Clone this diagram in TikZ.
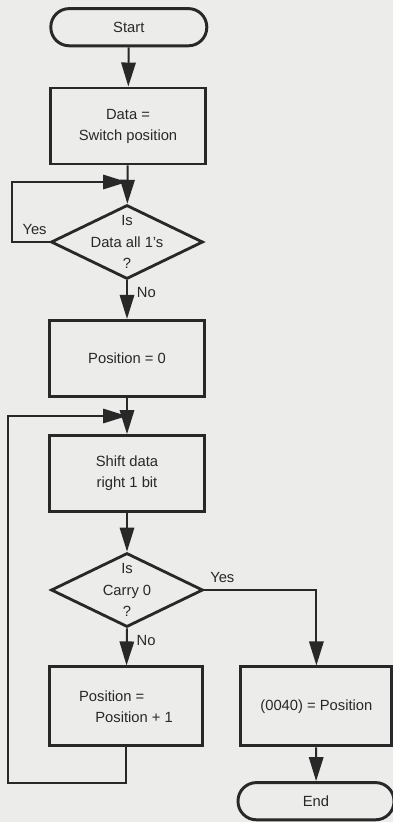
\documentclass[tikz,border=0pt]{standalone}
\usepackage{fontspec}
\setmainfont{Liberation Sans}
\usetikzlibrary{arrows.meta, shapes.geometric}
\definecolor{paper}{RGB}{236,236,234}
\definecolor{ink}{RGB}{40,40,40}
\begin{document}
\begin{tikzpicture}[>={Triangle[length=0.6cm,width=0.36cm]},
  every node/.style={text=ink, font=\fontsize{10.5}{15}\selectfont},
  flow/.style={draw=ink, line width=1.4pt},
  procbox/.style={draw=ink, line width=2.1pt, rectangle, align=center,
                  minimum width=3.875cm, minimum height=1.9cm},
  decision/.style={draw=ink, line width=2pt, diamond, align=center,
                   inner xsep=-0.3cm, inner ysep=-0.4cm,
                   minimum width=3.8cm, minimum height=1.85cm},
  terminal/.style={draw=ink, line width=2.1pt, rectangle, rounded corners=0.46cm,
                   minimum width=3.9cm, minimum height=0.93cm}]
  % page
  \fill[paper] (0,0) rectangle (9.825,-20.55);
  \useasboundingbox (0,0) rectangle (9.825,-20.55);
  % main column
  \node[terminal] (start) at (3.22,-0.68) {Start};
  \node[procbox] (data) at (3.2,-3.15) {Data =\\Switch position};
  \node[decision] (isones) at (3.175,-6.05) {Is\\Data all 1's\\?};
  \node[procbox] (posnull) at (3.175,-8.96) {Position = 0};
  \node[procbox] (shift) at (3.175,-11.84) {Shift data\\right 1 bit};
  \node[decision] (iscarry) at (3.175,-14.75) {Is\\Carry 0\\?};
  \node[procbox, align=left, minimum width=3.825cm, minimum height=1.975cm]
       (incr) at (3.15,-17.66) {Position =\\\hspace{1.1em}Position + 1};
  % right column
  \node[procbox, minimum width=3.775cm, minimum height=1.975cm]
       (store) at (7.91,-17.66) {(0040) = Position};
  \node[terminal] (stop) at (7.9,-20.03) {End};
  % joins on the main line
  \coordinate (joinA) at (3.175,-4.55);
  \coordinate (joinB) at (3.175,-10.4);
  % connectors
  \draw[flow, ->] (start) -- (data);
  \draw[flow, ->] (data) -- (isones);
  \draw[flow, ->] (isones.west) -| (0.3,-4.55) node[pos=0.2, above=1pt] {Yes}
       -- (joinA);
  \draw[flow, ->] (isones.south) -- (posnull)
       node[pos=0.32, right=3pt] {No};
  \draw[flow, ->] (posnull) -- (shift);
  \draw[flow, ->] (shift) -- (iscarry);
  \draw[flow, ->] (iscarry.east) -| (store)
       node[pos=0.08, above=1pt] {Yes};
  \draw[flow, ->] (iscarry.south) -- (incr)
       node[pos=0.32, right=3pt] {No};
  \draw[flow, ->] (incr.south) -- ++(0,-0.9) -| (0.2,-10.4) -- (joinB);
  \draw[flow, ->] (store) -- (stop);
\end{tikzpicture}
\end{document}
